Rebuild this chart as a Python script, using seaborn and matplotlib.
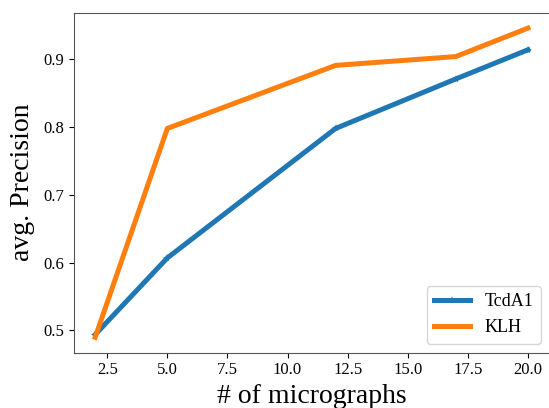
import pandas as pd
import matplotlib.pyplot as plt
import seaborn as sns

#%% data
n_micrographs = [2, 5, 12, 17, 20]
tcda1_prec = [0.494, 0.607, 0.798, 0.871, 0.914]
klh_prec = [0.490, 0.798, 0.891, 0.904, 0.946]

df = pd.DataFrame({
    'n': n_micrographs * 2,
    'prec': tcda1_prec + klh_prec,
    'protein': ['TcdA1'] * len(n_micrographs) + ['KLH'] * len(n_micrographs),
})

plt.rcParams['font.family'] = ['Liberation Serif', 'DejaVu Serif']

#%% plot
fig = plt.figure(figsize=(5.49, 4.08), dpi=100)
ax = fig.add_axes([0.134, 0.1355, 0.867, 0.8335])

sns.lineplot(data=df[df.protein == 'TcdA1'], x='n', y='prec', ax=ax,
             color='tab:blue', lw=3.6, marker='*', markersize=6,
             markeredgewidth=0, label='TcdA1')
sns.lineplot(data=df[df.protein == 'KLH'], x='n', y='prec', ax=ax,
             color='tab:orange', lw=3.6, label='KLH')

ax.set_xlabel('# of micrographs', fontsize=20, labelpad=4)
ax.set_ylabel('avg. Precision', fontsize=20, labelpad=6)
ax.tick_params(labelsize=12)
ax.set_yticks([0.5, 0.6, 0.7, 0.8, 0.9])
ax.legend(loc='lower right', fontsize=13)
for s in ax.spines.values():
    s.set_color('#555555')

fig.savefig('out.png', dpi=100)
